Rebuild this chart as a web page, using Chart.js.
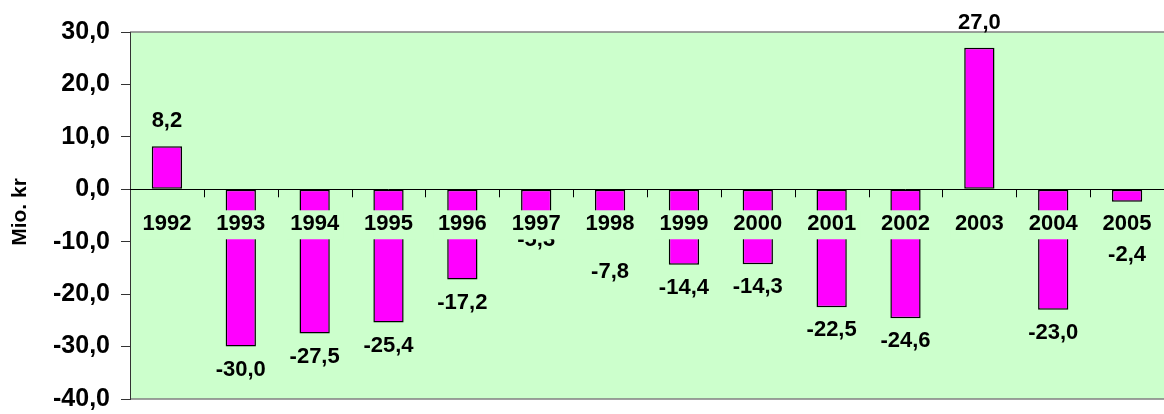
<!DOCTYPE html>
<html>
<head>
<meta charset="utf-8">
<script src="https://cdn.jsdelivr.net/npm/chart.js@4/dist/chart.umd.min.js"></script>
<style>
html,body{margin:0;padding:0;background:#fff;overflow:hidden;}
#wrap{width:1164px;height:414px;}
</style>
</head>
<body>
<div id="wrap"><canvas id="c" width="1164" height="414"></canvas></div>
<script>
const years = ['1992','1993','1994','1995','1996','1997','1998','1999','2000','2001','2002','2003','2004','2005'];
const values = [8.2, -30.0, -27.5, -25.4, -17.2, -5.3, -7.8, -14.4, -14.3, -22.5, -24.6, 27.0, -23.0, -2.4];
const yMin = -40, yMax = 30, yStep = 10;
const axisTitle = 'Mio. kr';

const FONT = '"Liberation Sans", Arial, sans-serif';
const fmt = v => v.toFixed(1).replace('.', ',');

const custom = {
  id: 'custom',
  beforeDraw(chart) {
    const {ctx, chartArea: a} = chart;
    ctx.save();
    ctx.fillStyle = '#CCFFCC';
    ctx.fillRect(a.left, a.top, a.right - a.left, a.bottom - a.top);
    ctx.strokeStyle = '#808080';
    ctx.lineWidth = 1.5;
    ctx.beginPath();
    ctx.moveTo(a.left, a.top); ctx.lineTo(a.right, a.top);
    ctx.moveTo(a.left, a.bottom); ctx.lineTo(a.right, a.bottom);
    ctx.stroke();
    ctx.restore();
  },
  afterDatasetsDraw(chart, args, opts) {
    const {ctx, chartArea: a} = chart;
    const xs = chart.scales.x, ys = chart.scales.y;
    const y0 = ys.getPixelForValue(0);
    const half = (xs.getPixelForValue(1) - xs.getPixelForValue(0)) / 2;
    ctx.save();
    // zero line with tick marks
    ctx.strokeStyle = '#000';
    ctx.lineWidth = 1;
    ctx.beginPath();
    ctx.moveTo(a.left, Math.round(y0) + 0.5); ctx.lineTo(a.right, Math.round(y0) + 0.5);
    for (let i = 1; i < years.length; i++) {
      const bx = Math.round(xs.getPixelForValue(i) - half) + 0.5;
      ctx.moveTo(bx, y0); ctx.lineTo(bx, y0 + 8);
    }
    ctx.stroke();

    // data labels
    const meta = chart.getDatasetMeta(0);
    ctx.fillStyle = '#000';
    ctx.font = 'bold 22px ' + FONT;
    ctx.textAlign = 'center';
    ctx.textBaseline = 'middle';
    const nudge = opts.nudge || {};
    meta.data.forEach((el, i) => {
      const v = values[i];
      const y = v >= 0 ? el.y - 25 : el.y + 23 + (nudge[i] || 0);
      ctx.fillText(fmt(v), el.x, y);
    });

    // category labels with background box at the zero line
    ctx.font = 'bold 22px ' + FONT;
    years.forEach((lab, i) => {
      const x = xs.getPixelForValue(i);
      const w = ctx.measureText(lab).width;
      ctx.fillStyle = '#CCFFCC';
      ctx.fillRect(x - w / 2 - 4, y0 + 21, w + 8, 29);
      ctx.fillStyle = '#000';
      ctx.fillText(lab, x, y0 + 35);
    });

    // axis title
    ctx.translate(20, 212);
    ctx.rotate(-Math.PI / 2);
    ctx.font = 'bold 21px ' + FONT;
    ctx.fillText(axisTitle, 0, 0);
    ctx.restore();
  }
};

new Chart(document.getElementById('c'), {
  type: 'bar',
  data: {
    labels: years,
    datasets: [{
      data: values,
      backgroundColor: '#FF00FF',
      borderColor: '#000000',
      borderWidth: 1.5,
      borderSkipped: false,
      barPercentage: 0.41,
      categoryPercentage: 1.0
    }]
  },
  options: {
    responsive: false,
    animation: false,
    devicePixelRatio: 1,
    layout: { padding: { top: 32, bottom: 15, left: 0, right: 0 } },
    plugins: {
      legend: { display: false },
      tooltip: { enabled: false },
      custom: { nudge: { 6: 19, 13: 30 } }
    },
    scales: {
      x: { display: false, offset: true },
      y: {
        min: yMin, max: yMax,
        afterFit(scale) { scale.width = 130; scale.paddingTop = 0; scale.paddingBottom = 0; },
        ticks: {
          stepSize: yStep,
          padding: 11,
          color: '#000',
          font: { family: FONT, size: 25, weight: 'bold' },
          callback: v => fmt(v)
        },
        grid: { drawOnChartArea: false, tickLength: 9, color: '#333', tickWidth: 1 },
        border: { display: true, color: '#333', width: 1 }
      }
    }
  },
  plugins: [custom]
});
</script>
</body>
</html>
